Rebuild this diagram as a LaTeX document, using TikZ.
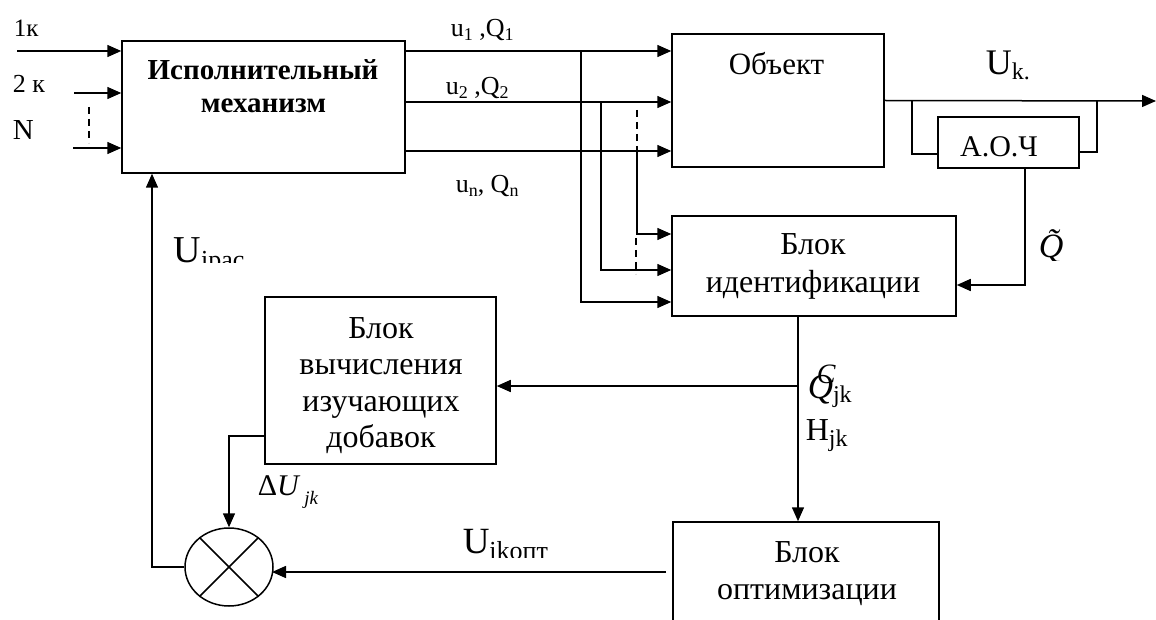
\documentclass[tikz,border=0pt]{standalone}
\usepackage{fontspec}
\setmainfont{Liberation Serif}
\usetikzlibrary{arrows.meta,shapes.geometric}
\newcommand{\fsz}[1]{\fontsize{#1}{#1}\selectfont}
\newcommand{\lowr}[3]{\raisebox{-#1}{\fsz{#2}#3}}
\begin{document}
\begin{tikzpicture}[x=1pt,y=-1pt,line width=1.5pt,
  blk/.style={draw,line width=1.5pt,inner sep=0pt},
  txt/.style={inner sep=0pt,anchor=base},
  txtl/.style={inner sep=0pt,anchor=base west},
  arr/.style={-{Triangle[length=14pt,width=12pt]}},
  dl/.style={dashed,dash pattern=on 7pt off 5pt}]
\clip (0,0) rectangle (1156,620);
\useasboundingbox (0,0) rectangle (1156,620);
% boxes
\node[blk,minimum width=283,minimum height=132] (im) at (263.5,107) {};
\node[blk,minimum width=212,minimum height=133] (ob) at (778,100.5) {};
\node[blk,minimum width=141,minimum height=51] (aoc) at (1008.5,142.5) {};
\node[blk,minimum width=284,minimum height=100] (id) at (814,266) {};
\node[blk,minimum width=231,minimum height=167] (bv) at (380.5,380.5) {};
\node[blk,minimum width=266,minimum height=120] (op) at (806,582) {};
\node[blk,ellipse,minimum width=88,minimum height=78] (sum) at (229,567) {};
\draw (sum.45) -- (sum.225);
\draw (sum.135) -- (sum.-45);
% box texts
\node[txt] (imt1) at (263,80) {\fsz{29}\bfseries Исполнительный};
\node[txt] (imt2) at (263.5,113) {\fsz{29}\bfseries механизм};
\node[txt] (obt) at (776.5,75) {\fsz{31}Объект};
\node[txt] (aot) at (999,157) {\fsz{30}А.О.Ч};
\node[txt] (idt1) at (813,255) {\fsz{32}Блок};
\node[txt] (idt2) at (813,293) {\fsz{32}идентификации};
\node[txt] (bvt1) at (381,338) {\fsz{32}Блок};
\node[txt] (bvt2) at (381,374) {\fsz{32}вычисления};
\node[txt] (bvt3) at (381,411) {\fsz{32}изучающих};
\node[txt] (bvt4) at (381,447) {\fsz{32}добавок};
\node[txt] (opt1) at (807,562) {\fsz{32}Блок};
\node[txt] (opt2) at (807,599) {\fsz{32}оптимизации};
% inputs
\coordinate (in1) at (17,51);
\coordinate (in2) at (74,93);
\coordinate (in3) at (73,148);
\draw[arr] (in1) -- (in1 -| im.west);
\draw[arr] (in2) -- (in2 -| im.west);
\draw[arr] (in3) -- (in3 -| im.west);
\coordinate (d1a) at (89,107);
\coordinate (d1b) at (89,143);
\draw[dl] (d1a) -- (d1b);
\node[txtl] (l1k) at (13,37) {\fsz{25}1к};
\node[txtl] (l2k) at (12,93) {\fsz{26}2 к};
\node[txtl] (lN) at (12,140) {\fsz{29}N};
% outputs of actuator
\coordinate (j1) at (581,51);
\coordinate (j2) at (601,102);
\coordinate (j3) at (637,151);
\draw[arr] (im.east |- j1) -- (j1 -| ob.west);
\draw[arr] (im.east |- j2) -- (j2 -| ob.west);
\draw[arr] (im.east |- j3) -- (j3 -| ob.west);
\node[txtl] (lu1) at (450,37) {\fsz{26}u\lowr{4pt}{18}{1} ,Q\lowr{4pt}{18}{1}};
\node[txtl] (lu2) at (445,95) {\fsz{26}u\lowr{4pt}{18}{2} ,Q\lowr{4pt}{18}{2}};
\node[txtl] (lun) at (455,193) {\fsz{26}u\lowr{4pt}{18}{n}, Q\lowr{4pt}{18}{n}};
% taps to identification block
\coordinate (t1) at (581,302);
\coordinate (t2) at (601,270);
\coordinate (t3) at (637,234);
\draw[arr] (j1) -- (t1) -- (t1 -| id.west);
\draw[arr] (j2) -- (t2) -- (t2 -| id.west);
\draw[arr] (j3) -- (t3) -- (t3 -| id.west);
\coordinate (d2a) at (637,110);
\coordinate (d2b) at (637,151);
\draw[dl] (d2a) -- (d2b);
\coordinate (d3a) at (636,238);
\coordinate (d3b) at (636,274);
\draw[dl] (d3a) -- (d3b);
% object output
\coordinate (uend) at (1156,101);
\draw[arr] (ob.east) -- (uend);
\node[txtl] (luk) at (985,75) {\fsz{36}U\lowr{5pt}{24}{k.}};
\coordinate (b1) at (912,101);
\coordinate (b1d) at (912,154);
\draw (b1) -- (b1d) -- (b1d -| aoc.west);
\coordinate (b2) at (1097,101);
\coordinate (b2d) at (1097,152);
\draw (b2) -- (b2d) -- (b2d -| aoc.east);
% AOC to identification
\coordinate (q1) at (1025,285);
\draw[arr] (q1 |- aoc.south) -- (q1) -- (q1 -| id.east);
\begin{scope}
\clip (1030,215) rectangle (1080,261);
\node[txtl] (lqt) at (1038,258) {\fsz{34}\itshape\~{Q}};
\end{scope}
% identification output
\coordinate (r1) at (798,386);
\draw (r1 |- id.south) -- (r1);
\draw[arr] (r1) -- (r1 |- op.north);
\draw[arr] (r1) -- (r1 -| bv.east);
\node[txtl] (lqjk) at (807,398) {\fsz{35}\itshape Q\upshape\lowr{4pt}{24}{jk}};
\node[txtl] (lqc) at (816,383) {\fsz{28}\itshape C};
\node[txtl] (lhjk) at (805,440) {\fsz{32}H\lowr{6pt}{24}{jk}};
% learning block to summator
\coordinate (g1) at (229,436);
\draw[arr] (bv.west |- g1) -- (g1) -- (sum.north);
\node[txtl] (ldu) at (257,495) {\fsz{30}Δ\textit{U}\hspace{4pt}\lowr{9pt}{19}{\itshape jk}};
% optimisation to summator
\coordinate (s1) at (666,572);
\coordinate (s2) at (272,572);
\draw[arr] (s1) -- (s2);
\begin{scope}
\clip (450,515) rectangle (560,557);
\node[txtl] (luik) at (462,553) {\fsz{37}U\lowr{6pt}{26}{ikопт}};
\end{scope}
% feedback
\coordinate (f1) at (152,567);
\draw[arr] (sum.west) -- (f1) -- (f1 |- im.south);
\begin{scope}
\clip (165,225) rectangle (260,263);
\node[txtl] (luip) at (173,262) {\fsz{38}U\lowr{6pt}{26}{ipac}};
\end{scope}
\end{tikzpicture}
\end{document}
